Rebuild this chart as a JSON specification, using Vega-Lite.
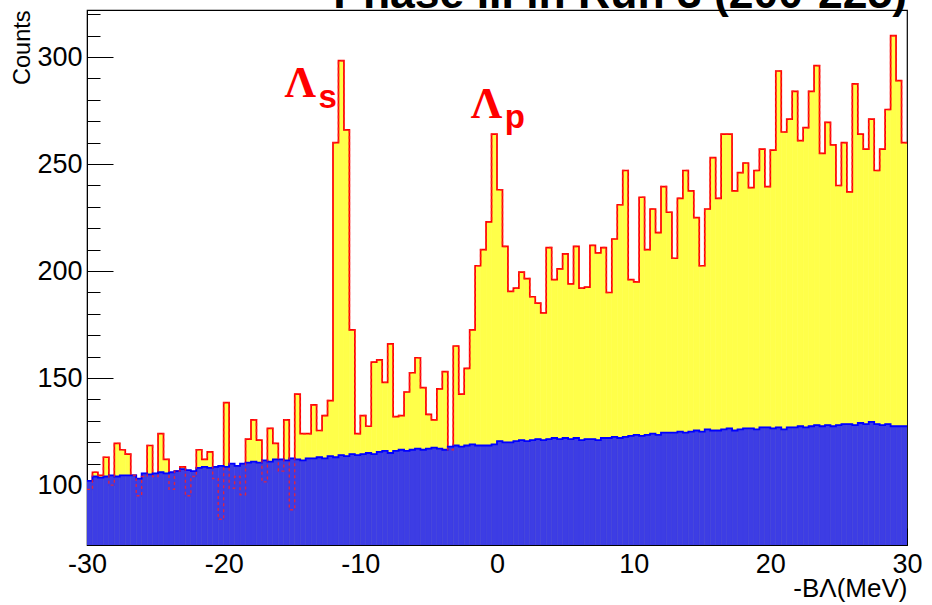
{
  "$schema": "https://vega.github.io/schema/vega-lite/v6.json",
  "width": 820,
  "height": 535,
  "autosize": {"type": "none"},
  "padding": {"left": 87, "top": 10, "right": 25, "bottom": 60},
  "background": "white",
  "config": {
    "view": {"stroke": "black", "strokeWidth": 1.2},
    "axis": {"grid": false, "labelOverlap": false, "domainColor": "black", "tickColor": "black", "labelColor": "black", "titleColor": "black", "labelFont": "Liberation Sans", "titleFont": "Liberation Sans", "titleFontWeight": "normal"}
  },
  "datasets": {
    "h": [
      {"x0":-30,"x1":-29.6,"y":98,"b":102},{"x0":-29.6,"x1":-29.2,"y":106,"b":104},{"x0":-29.2,"x1":-28.8,"y":104.5,"b":103.5},{"x0":-28.8,"x1":-28.4,"y":113,"b":104},{"x0":-28.4,"x1":-28,"y":100,"b":104.5},
      {"x0":-28,"x1":-27.6,"y":119.5,"b":104},{"x0":-27.6,"x1":-27.2,"y":116.5,"b":104.5},{"x0":-27.2,"x1":-26.8,"y":114.5,"b":104.5},{"x0":-26.8,"x1":-26.4,"y":104.5,"b":104.5},{"x0":-26.4,"x1":-26,"y":95,"b":103},
      {"x0":-26,"x1":-25.6,"y":104,"b":105.5},{"x0":-25.6,"x1":-25.2,"y":118.5,"b":105},{"x0":-25.2,"x1":-24.8,"y":104,"b":105.5},{"x0":-24.8,"x1":-24.4,"y":124,"b":106},{"x0":-24.4,"x1":-24,"y":112,"b":105.5},
      {"x0":-24,"x1":-23.6,"y":98,"b":106},{"x0":-23.6,"x1":-23.2,"y":106.5,"b":106.5},{"x0":-23.2,"x1":-22.8,"y":108.5,"b":107.5},{"x0":-22.8,"x1":-22.4,"y":95,"b":107},{"x0":-22.4,"x1":-22,"y":104,"b":106.5},
      {"x0":-22,"x1":-21.6,"y":116.5,"b":108},{"x0":-21.6,"x1":-21.2,"y":112,"b":108.5},{"x0":-21.2,"x1":-20.8,"y":115.5,"b":108},{"x0":-20.8,"x1":-20.4,"y":103,"b":108.5},{"x0":-20.4,"x1":-20,"y":84,"b":109},
      {"x0":-20,"x1":-19.6,"y":138.5,"b":108.5},{"x0":-19.6,"x1":-19.2,"y":98.5,"b":110},{"x0":-19.2,"x1":-18.8,"y":104,"b":109},{"x0":-18.8,"x1":-18.4,"y":95.5,"b":110},{"x0":-18.4,"x1":-18,"y":121.5,"b":110.5},
      {"x0":-18,"x1":-17.6,"y":130.5,"b":111},{"x0":-17.6,"x1":-17.2,"y":121,"b":110.5},{"x0":-17.2,"x1":-16.8,"y":101.5,"b":111.5},{"x0":-16.8,"x1":-16.4,"y":126.5,"b":111},{"x0":-16.4,"x1":-16,"y":119.5,"b":112},
      {"x0":-16,"x1":-15.6,"y":106.5,"b":112},{"x0":-15.6,"x1":-15.2,"y":130.5,"b":111.5},{"x0":-15.2,"x1":-14.8,"y":88.5,"b":112.5},{"x0":-14.8,"x1":-14.4,"y":142.5,"b":112},{"x0":-14.4,"x1":-14,"y":124,"b":111.5},
      {"x0":-14,"x1":-13.6,"y":124,"b":112.5},{"x0":-13.6,"x1":-13.2,"y":137.5,"b":112.5},{"x0":-13.2,"x1":-12.8,"y":125.5,"b":113},{"x0":-12.8,"x1":-12.4,"y":132.5,"b":112.5},{"x0":-12.4,"x1":-12,"y":139.5,"b":113.5},
      {"x0":-12,"x1":-11.6,"y":260,"b":113},{"x0":-11.6,"x1":-11.2,"y":298.3,"b":114},{"x0":-11.2,"x1":-10.8,"y":266,"b":113.5},{"x0":-10.8,"x1":-10.4,"y":172.5,"b":114.5},{"x0":-10.4,"x1":-10,"y":124,"b":114},
      {"x0":-10,"x1":-9.6,"y":132.5,"b":114.5},{"x0":-9.6,"x1":-9.2,"y":127.5,"b":115},{"x0":-9.2,"x1":-8.8,"y":157.5,"b":114.5},{"x0":-8.8,"x1":-8.4,"y":158.5,"b":115.5},{"x0":-8.4,"x1":-8,"y":148,"b":116},
      {"x0":-8,"x1":-7.6,"y":166,"b":115},{"x0":-7.6,"x1":-7.2,"y":132,"b":116},{"x0":-7.2,"x1":-6.8,"y":132.5,"b":116.5},{"x0":-6.8,"x1":-6.4,"y":143.5,"b":116},{"x0":-6.4,"x1":-6,"y":152.5,"b":116.5},
      {"x0":-6,"x1":-5.6,"y":159.5,"b":117},{"x0":-5.6,"x1":-5.2,"y":145.5,"b":116.5},{"x0":-5.2,"x1":-4.8,"y":133,"b":117},{"x0":-4.8,"x1":-4.4,"y":130.5,"b":117.5},{"x0":-4.4,"x1":-4,"y":145,"b":117},
      {"x0":-4,"x1":-3.6,"y":153,"b":116.5},{"x0":-3.6,"x1":-3.2,"y":116.5,"b":118},{"x0":-3.2,"x1":-2.8,"y":165,"b":118.5},{"x0":-2.8,"x1":-2.4,"y":142.5,"b":118},{"x0":-2.4,"x1":-2,"y":154.5,"b":118.5},
      {"x0":-2,"x1":-1.6,"y":172.5,"b":119},{"x0":-1.6,"x1":-1.2,"y":202.5,"b":118.5},{"x0":-1.2,"x1":-0.8,"y":210,"b":118.5},{"x0":-0.8,"x1":-0.4,"y":223,"b":118.5},{"x0":-0.4,"x1":0,"y":264,"b":119},
      {"x0":0,"x1":0.4,"y":238,"b":120.5},{"x0":0.4,"x1":0.8,"y":211.5,"b":120},{"x0":0.8,"x1":1.2,"y":190.5,"b":120},{"x0":1.2,"x1":1.6,"y":192,"b":120.5},{"x0":1.6,"x1":2,"y":199.5,"b":121},
      {"x0":2,"x1":2.4,"y":196.5,"b":120.5},{"x0":2.4,"x1":2.8,"y":188,"b":121},{"x0":2.8,"x1":3.2,"y":185,"b":121.5},{"x0":3.2,"x1":3.6,"y":180.5,"b":121},{"x0":3.6,"x1":4,"y":211,"b":121.5},
      {"x0":4,"x1":4.4,"y":196,"b":122},{"x0":4.4,"x1":4.8,"y":201,"b":121.5},{"x0":4.8,"x1":5.2,"y":208,"b":122},{"x0":5.2,"x1":5.6,"y":194,"b":121.5},{"x0":5.6,"x1":6,"y":211.5,"b":122},
      {"x0":6,"x1":6.4,"y":192,"b":121},{"x0":6.4,"x1":6.8,"y":192.5,"b":121.5},{"x0":6.8,"x1":7.2,"y":212,"b":121.5},{"x0":7.2,"x1":7.6,"y":208.5,"b":121},{"x0":7.6,"x1":8,"y":211,"b":122},
      {"x0":8,"x1":8.4,"y":190,"b":122},{"x0":8.4,"x1":8.8,"y":215,"b":122.5},{"x0":8.8,"x1":9.2,"y":231,"b":122},{"x0":9.2,"x1":9.6,"y":247,"b":122.5},{"x0":9.6,"x1":10,"y":196,"b":123},
      {"x0":10,"x1":10.4,"y":195,"b":123.5},{"x0":10.4,"x1":10.8,"y":234.5,"b":123},{"x0":10.8,"x1":11.2,"y":210,"b":123.5},{"x0":11.2,"x1":11.6,"y":229,"b":124},{"x0":11.6,"x1":12,"y":218,"b":123.5},
      {"x0":12,"x1":12.4,"y":239.5,"b":124.5},{"x0":12.4,"x1":12.8,"y":227.5,"b":124.5},{"x0":12.8,"x1":13.2,"y":206,"b":124.5},{"x0":13.2,"x1":13.6,"y":234,"b":125},{"x0":13.6,"x1":14,"y":247,"b":124.5},
      {"x0":14,"x1":14.4,"y":237.5,"b":125},{"x0":14.4,"x1":14.8,"y":225,"b":125.5},{"x0":14.8,"x1":15.2,"y":202.5,"b":125},{"x0":15.2,"x1":15.6,"y":229,"b":126},{"x0":15.6,"x1":16,"y":253,"b":125.5},
      {"x0":16,"x1":16.4,"y":234,"b":125.5},{"x0":16.4,"x1":16.8,"y":264,"b":126},{"x0":16.8,"x1":17.2,"y":264,"b":126.5},{"x0":17.2,"x1":17.6,"y":237.5,"b":125.5},{"x0":17.6,"x1":18,"y":246,"b":126},
      {"x0":18,"x1":18.4,"y":250.5,"b":126.5},{"x0":18.4,"x1":18.8,"y":239,"b":126.5},{"x0":18.8,"x1":19.2,"y":247,"b":126},{"x0":19.2,"x1":19.6,"y":257,"b":127},{"x0":19.6,"x1":20,"y":239.5,"b":127},
      {"x0":20,"x1":20.4,"y":256.5,"b":126.5},{"x0":20.4,"x1":20.8,"y":293.5,"b":127},{"x0":20.8,"x1":21.2,"y":265,"b":126},{"x0":21.2,"x1":21.6,"y":271,"b":127},{"x0":21.6,"x1":22,"y":284,"b":127},
      {"x0":22,"x1":22.4,"y":261,"b":127.5},{"x0":22.4,"x1":22.8,"y":267,"b":127},{"x0":22.8,"x1":23.2,"y":284,"b":127.5},{"x0":23.2,"x1":23.6,"y":296,"b":128},{"x0":23.6,"x1":24,"y":255,"b":127.5},
      {"x0":24,"x1":24.4,"y":269.5,"b":128},{"x0":24.4,"x1":24.8,"y":259,"b":127.5},{"x0":24.8,"x1":25.2,"y":240,"b":128},{"x0":25.2,"x1":25.6,"y":260,"b":128.5},{"x0":25.6,"x1":26,"y":237,"b":128.5},
      {"x0":26,"x1":26.4,"y":287.5,"b":128},{"x0":26.4,"x1":26.8,"y":264,"b":129},{"x0":26.8,"x1":27.2,"y":257,"b":128.5},{"x0":27.2,"x1":27.6,"y":271,"b":129.5},{"x0":27.6,"x1":28,"y":247,"b":128.5},
      {"x0":28,"x1":28.4,"y":257,"b":128},{"x0":28.4,"x1":28.8,"y":275.5,"b":128.5},{"x0":28.8,"x1":29.2,"y":310,"b":127.5},{"x0":29.2,"x1":29.6,"y":289,"b":127.5},{"x0":29.6,"x1":30,"y":260,"b":127.5}
    ],
    "lam": [{"t": "Λ", "x": -14.4, "y": 281.4}, {"t": "Λ", "x": -0.77, "y": 271.4}],
    "sub": [{"t": "s", "x": -13.06, "y": 276}, {"t": "p", "x": 0.56, "y": 266.7}],
    "ttl": [{"t": "Phase III in Run 3 (200-225)", "x": 30, "y": 322.9}]
  },
  "layer": [
    {
      "data": {"name": "ttl"},
      "mark": {"type": "text", "color": "black", "font": "Liberation Sans", "fontWeight": "bold", "fontSize": 44.5, "align": "right", "baseline": "alphabetic"},
      "encoding": {
        "x": {"field": "x", "type": "quantitative", "scale": {"domain": [-30, 30], "nice": false}},
        "y": {"field": "y", "type": "quantitative", "scale": {"domain": [72, 322], "nice": false, "zero": false}},
        "text": {"field": "t"}
      }
    },
    {
      "data": {"name": "h"},
      "mark": {"type": "bar", "fill": "#ffff4a", "stroke": "#ffff4a", "strokeWidth": 0.6, "clip": true},
      "encoding": {
        "x": {"field": "x0", "type": "quantitative", "scale": {"domain": [-30, 30], "nice": false},
          "axis": {
            "values": [-30,-28,-26,-24,-22,-20,-18,-16,-14,-12,-10,-8,-6,-4,-2,0,2,4,6,8,10,12,14,16,18,20,22,24,26,28,30],
            "tickCount": 100,
            "labelExpr": "datum.value % 10 === 0 ? '' + datum.value : ''",
            "tickSize": {"condition": {"test": "datum.value % 10 === 0", "value": -17}, "value": -8},
            "labelFontSize": 27, "labelPadding": 23, "labelFlush": false, "labelOverlap": false,
            "title": "-BΛ(MeV)", "titleFontSize": 26, "titleAnchor": "end", "titleAlign": "right", "titleBaseline": "alphabetic", "titleX": 820, "titleY": 51
          }},
        "x2": {"field": "x1"},
        "y": {"field": "y", "type": "quantitative", "scale": {"domain": [72, 322], "nice": false, "zero": false},
          "axis": {
            "values": [80,90,100,110,120,130,140,150,160,170,180,190,200,210,220,230,240,250,260,270,280,290,300,310,320],
            "tickCount": 100,
            "labelExpr": "datum.value % 50 === 0 ? '' + datum.value : ''",
            "tickSize": {"condition": {"test": "datum.value % 50 === 0", "value": -26}, "value": -13},
            "labelFontSize": 27, "labelPadding": 31, "labelOverlap": false,
            "title": "Counts", "titleFontSize": 23.5, "titleAngle": -90, "titleAlign": "right", "titleBaseline": "middle", "titleX": -65, "titleY": 0
          }},
        "y2": {"datum": 72}
      }
    },
    {
      "data": {"name": "h"},
      "transform": [{"fold": ["x0", "x1"], "as": ["k", "edge"]}],
      "mark": {"type": "line", "color": "#ff0000", "strokeWidth": 1.7, "clip": true, "interpolate": "linear"},
      "encoding": {
        "x": {"field": "edge", "type": "quantitative"},
        "y": {"field": "y", "type": "quantitative"},
        "order": [{"field": "edge", "type": "quantitative"}, {"field": "k", "type": "ordinal", "sort": "descending"}]
      }
    },
    {
      "data": {"name": "h"},
      "mark": {"type": "bar", "fill": "#3d3de4", "stroke": "#3d3de4", "strokeWidth": 0.6, "clip": true},
      "encoding": {
        "x": {"field": "x0", "type": "quantitative"},
        "x2": {"field": "x1"},
        "y": {"field": "b", "type": "quantitative"},
        "y2": {"datum": 72}
      }
    },
    {
      "data": {"name": "h"},
      "transform": [{"fold": ["x0", "x1"], "as": ["k", "edge"]}],
      "mark": {"type": "line", "color": "#0000ff", "strokeWidth": 1.8, "clip": true},
      "encoding": {
        "x": {"field": "edge", "type": "quantitative"},
        "y": {"field": "b", "type": "quantitative"},
        "order": [{"field": "edge", "type": "quantitative"}, {"field": "k", "type": "ordinal", "sort": "descending"}]
      }
    },
    {
      "data": {"name": "h"},
      "transform": [{"fold": ["x0", "x1"], "as": ["k", "edge"]}],
      "mark": {"type": "line", "color": "#ff2020", "strokeWidth": 1.4, "strokeDash": [3, 3], "opacity": 0.8, "clip": true},
      "encoding": {
        "x": {"field": "edge", "type": "quantitative"},
        "y": {"field": "y", "type": "quantitative"},
        "order": [{"field": "edge", "type": "quantitative"}, {"field": "k", "type": "ordinal", "sort": "descending"}]
      }
    },
    {
      "data": {"name": "lam"},
      "mark": {"type": "text", "color": "#ff0000", "font": "Liberation Serif", "fontWeight": "bold", "fontSize": 44, "align": "center", "baseline": "alphabetic"},
      "encoding": {
        "x": {"field": "x", "type": "quantitative"},
        "y": {"field": "y", "type": "quantitative"},
        "text": {"field": "t"}
      }
    },
    {
      "data": {"name": "sub"},
      "mark": {"type": "text", "color": "#ff0000", "font": "Liberation Sans", "fontWeight": "bold", "fontSize": 33, "align": "left", "baseline": "alphabetic"},
      "encoding": {
        "x": {"field": "x", "type": "quantitative"},
        "y": {"field": "y", "type": "quantitative"},
        "text": {"field": "t"}
      }
    }
  ]
}
